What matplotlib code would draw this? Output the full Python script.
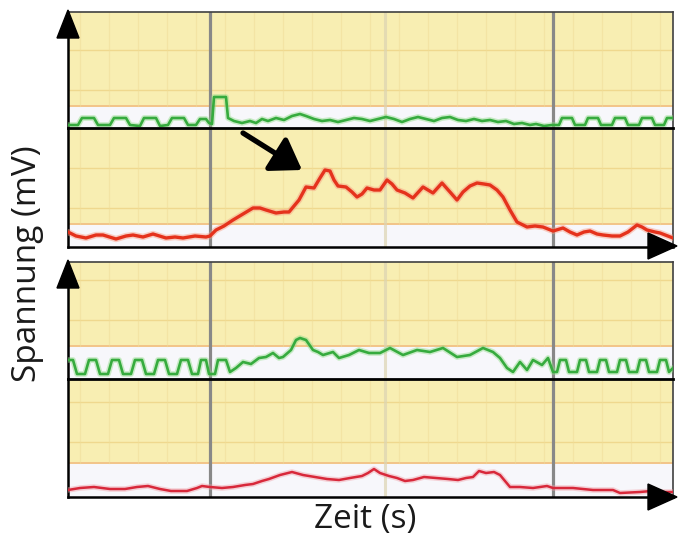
import matplotlib.pyplot as plt
from matplotlib.patches import Polygon

# Oberer Block: grüner und roter Kanal, Zeit in s, Spannung in mV
t_gruen_1 = [0, 0.10, 0.14, 0.26, 0.30, 0.42, 0.46, 0.58, 0.62, 0.72, 0.76, 0.88, 0.92,
             1.00, 1.04, 1.16, 1.20, 1.28, 1.32, 1.38, 1.41, 1.44, 1.46, 1.58, 1.60, 1.66,
             1.74, 1.82, 1.88, 1.94, 2.00, 2.08, 2.16, 2.24, 2.32, 2.38, 2.46, 2.54, 2.62,
             2.70, 2.78, 2.86, 2.94, 3.02, 3.10, 3.18, 3.26, 3.34, 3.42, 3.50, 3.58, 3.66,
             3.74, 3.82, 3.90, 3.98, 4.06, 4.14, 4.22, 4.30, 4.38, 4.46, 4.54, 4.62, 4.68,
             4.76, 4.84, 4.91, 4.94, 5.04, 5.07, 5.17, 5.20, 5.30, 5.33, 5.44, 5.47, 5.57,
             5.60, 5.71, 5.74, 5.84, 5.87, 5.96, 5.99, 6.05]
v_gruen_1 = [0.03, 0.03, 0.10, 0.10, 0.03, 0.03, 0.10, 0.10, 0.03, 0.02, 0.10, 0.10, 0.02,
             0.03, 0.10, 0.10, 0.03, 0.03, 0.09, 0.09, 0.05, 0.04, 0.31, 0.31, 0.10, 0.07,
             0.05, 0.07, 0.05, 0.09, 0.07, 0.10, 0.08, 0.12, 0.14, 0.12, 0.09, 0.07, 0.08,
             0.06, 0.08, 0.10, 0.09, 0.07, 0.09, 0.11, 0.09, 0.06, 0.09, 0.11, 0.09, 0.07,
             0.10, 0.11, 0.08, 0.07, 0.09, 0.07, 0.08, 0.06, 0.07, 0.04, 0.05, 0.03, 0.04,
             0.02, 0.03, 0.03, 0.10, 0.10, 0.03, 0.03, 0.10, 0.10, 0.03, 0.03, 0.10, 0.10,
             0.03, 0.03, 0.10, 0.10, 0.03, 0.03, 0.10, 0.10]

t_rot_1 = [0, 0.08, 0.18, 0.28, 0.35, 0.48, 0.58, 0.65, 0.75, 0.85, 0.98, 1.07, 1.15, 1.27,
           1.38, 1.42, 1.48, 1.56, 1.65, 1.75, 1.85, 1.92, 1.98, 2.08, 2.16, 2.21, 2.26, 2.31,
           2.38, 2.46, 2.52, 2.57, 2.62, 2.66, 2.70, 2.78, 2.84, 2.89, 2.94, 2.99, 3.06, 3.12,
           3.19, 3.24, 3.29, 3.37, 3.45, 3.55, 3.60, 3.65, 3.74, 3.82, 3.89, 3.95, 4.02, 4.09,
           4.16, 4.22, 4.29, 4.35, 4.42, 4.49, 4.59, 4.67, 4.75, 4.85, 4.95, 5.02, 5.09, 5.16,
           5.22, 5.29, 5.35, 5.44, 5.52, 5.60, 5.69, 5.74, 5.79, 5.87, 5.92, 6.05]
v_rot_1 = [0.15, 0.11, 0.09, 0.12, 0.12, 0.08, 0.11, 0.12, 0.10, 0.13, 0.09, 0.10, 0.09, 0.11,
           0.10, 0.11, 0.17, 0.21, 0.27, 0.33, 0.39, 0.39, 0.37, 0.34, 0.35, 0.35, 0.41, 0.47,
           0.60, 0.59, 0.69, 0.77, 0.76, 0.67, 0.61, 0.60, 0.55, 0.50, 0.53, 0.59, 0.57, 0.57,
           0.67, 0.63, 0.57, 0.54, 0.49, 0.60, 0.57, 0.54, 0.64, 0.55, 0.47, 0.55, 0.61, 0.64,
           0.63, 0.62, 0.57, 0.50, 0.37, 0.25, 0.20, 0.21, 0.20, 0.16, 0.19, 0.15, 0.12, 0.15,
           0.16, 0.13, 0.12, 0.11, 0.11, 0.15, 0.22, 0.20, 0.17, 0.15, 0.14, 0.09]

# Unterer Block
t_gruen_2 = [0, 0.05, 0.09, 0.17, 0.21, 0.28, 0.32, 0.40, 0.44, 0.51, 0.55, 0.63, 0.67, 0.74,
             0.78, 0.86, 0.90, 0.97, 1.01, 1.09, 1.13, 1.20, 1.24, 1.30, 1.33, 1.38, 1.41,
             1.47, 1.50, 1.58, 1.62, 1.68, 1.75, 1.83, 1.91, 1.98, 2.05, 2.11, 2.15, 2.23,
             2.28, 2.32, 2.38, 2.45, 2.50, 2.55, 2.65, 2.71, 2.81, 2.91, 3.01, 3.12, 3.22,
             3.35, 3.49, 3.62, 3.75, 3.89, 4.02, 4.15, 4.25, 4.32, 4.39, 4.45, 4.52, 4.59,
             4.65, 4.74, 4.80, 4.85, 4.89, 4.92, 4.98, 5.01, 5.09, 5.12, 5.18, 5.21, 5.29,
             5.32, 5.38, 5.41, 5.49, 5.52, 5.58, 5.61, 5.69, 5.72, 5.78, 5.81, 5.89, 5.92,
             5.98, 6.01, 6.05]
v_gruen_2 = [0.19, 0.19, 0.05, 0.05, 0.19, 0.19, 0.05, 0.05, 0.19, 0.19, 0.05, 0.05, 0.19, 0.19,
             0.05, 0.05, 0.19, 0.19, 0.05, 0.05, 0.19, 0.19, 0.05, 0.05, 0.19, 0.19, 0.05,
             0.05, 0.19, 0.19, 0.07, 0.11, 0.17, 0.15, 0.21, 0.22, 0.26, 0.21, 0.22, 0.29,
             0.39, 0.41, 0.39, 0.29, 0.27, 0.24, 0.27, 0.21, 0.24, 0.29, 0.26, 0.26, 0.31,
             0.24, 0.29, 0.27, 0.31, 0.22, 0.24, 0.31, 0.27, 0.21, 0.11, 0.07, 0.17, 0.09,
             0.19, 0.14, 0.21, 0.07, 0.07, 0.19, 0.19, 0.07, 0.07, 0.19, 0.19, 0.07, 0.07,
             0.19, 0.19, 0.07, 0.07, 0.19, 0.19, 0.07, 0.07, 0.19, 0.19, 0.07, 0.07, 0.19,
             0.19, 0.07, 0.11]

t_rot_2 = [0, 0.12, 0.26, 0.42, 0.57, 0.69, 0.80, 0.92, 1.03, 1.19, 1.29, 1.34, 1.42, 1.54,
           1.65, 1.77, 1.85, 1.94, 2.01, 2.12, 2.24, 2.35, 2.47, 2.59, 2.71, 2.82, 2.94, 3.00,
           3.06, 3.12, 3.21, 3.29, 3.37, 3.45, 3.56, 3.68, 3.80, 3.90, 3.98, 4.05, 4.11, 4.18,
           4.26, 4.32, 4.37, 4.42, 4.52, 4.65, 4.79, 4.85, 4.95, 5.05, 5.25, 5.45, 5.52, 5.72,
           5.83, 5.95, 6.05]
v_rot_2 = [0.07, 0.09, 0.10, 0.08, 0.08, 0.10, 0.11, 0.08, 0.06, 0.06, 0.09, 0.11, 0.10, 0.09,
           0.10, 0.12, 0.13, 0.16, 0.18, 0.22, 0.25, 0.22, 0.20, 0.18, 0.17, 0.19, 0.21, 0.24,
           0.28, 0.24, 0.21, 0.19, 0.16, 0.17, 0.20, 0.19, 0.18, 0.17, 0.19, 0.20, 0.26, 0.24,
           0.25, 0.22, 0.16, 0.10, 0.10, 0.09, 0.11, 0.09, 0.09, 0.09, 0.07, 0.07, 0.04, 0.05,
           0.06, 0.05, 0.05]

# Markierungen im Raster (s)
t_marker = [1.42, 4.85]
t_mitte = 3.17

W, H = 680, 543
fig = plt.figure(figsize=(W / 100, H / 100), dpi=100)
fig.patch.set_facecolor('white')

GELB = '#f8eeb2'
BAND = '#f7f7fb'


def kanal(top, bottom, band, gitter, t, v, farbe, halo, lw, oben):
    ax = fig.add_axes([68 / W, 1 - bottom / H, 605 / W, (bottom - top) / H])
    ymax = (bottom - top) / 100
    ax.set_xlim(0, 6.05)
    ax.set_ylim(0, ymax)
    ax.set_facecolor(GELB)
    ax.axhspan(0, band, color=BAND, zorder=0)
    ax.axhline(band, color='#f2c488', lw=1.4, zorder=1)
    for g in gitter:
        ax.axhline(g, color='#eccf80', lw=1.0, alpha=0.7, zorder=1)
    x = 0.12
    while x < 6.05:
        ax.axvline(x, ymin=band / ymax, color='#efdc98', lw=0.9, alpha=0.5, zorder=1)
        x += 0.29
    ax.axvline(t_mitte, color='#dcd4b2', lw=2.2, alpha=0.7, zorder=1)
    for tm in t_marker:
        ax.axvline(tm, color='#888888', lw=2.3, zorder=2)
    ax.plot(t, v, color=halo, lw=lw + 2.2, alpha=0.45, solid_joinstyle='round',
            solid_capstyle='round', zorder=3)
    ax.plot(t, v, color=farbe, lw=lw, solid_joinstyle='round', zorder=4)
    ax.set_xticks([])
    ax.set_yticks([])
    ax.spines['left'].set_color('black')
    ax.spines['left'].set_linewidth(1.8)
    ax.spines['right'].set_color('#404040')
    ax.spines['right'].set_linewidth(1.2)
    if oben:
        ax.spines['top'].set_color('#404040')
        ax.spines['top'].set_linewidth(1.2)
        ax.spines['bottom'].set_visible(False)
    else:
        ax.spines['top'].set_color('black')
        ax.spines['top'].set_linewidth(2.0)
        ax.spines['bottom'].set_color('black')
        ax.spines['bottom'].set_linewidth(1.8)
    return ax


kanal(12, 128, 0.22, [0.38, 0.78], t_gruen_1, v_gruen_1, '#36ab3e', '#8fdc86', 1.9, True)
ax_r1 = kanal(128, 247, 0.23, [0.39, 0.79], t_rot_1, v_rot_1, '#e5321c', '#f79a80', 2.4, False)
kanal(262, 379, 0.33, [0.59, 0.99], t_gruen_2, v_gruen_2, '#36ab3e', '#8fdc86', 1.9, True)
kanal(379, 497, 0.34, [0.55, 0.95], t_rot_2, v_rot_2, '#d8283a', '#f0a0a8', 1.8, False)

# Hinweispfeil auf den Anstieg im roten Kanal
ax_r1.annotate('', xy=(2.34, 0.77), xytext=(1.75, 1.14),
               arrowprops=dict(arrowstyle='-|>,head_length=0.6,head_width=0.4',
                               color='black', lw=3.8, mutation_scale=30,
                               shrinkA=0, shrinkB=0))


def px(x, y):
    return (x / W, 1 - y / H)


# Achsenpfeile
for y0 in (10, 260):
    fig.add_artist(Polygon([px(68, y0), px(57, y0 + 28), px(79, y0 + 28)],
                           closed=True, color='black', transform=fig.transFigure))
for y0 in (246, 497):
    fig.add_artist(Polygon([px(677, y0), px(648, y0 - 13), px(648, y0 + 13)],
                           closed=True, color='black', transform=fig.transFigure))

fig.text(0.040, 0.515, 'Spannung (mV)', rotation=90, fontsize=24, ha='center',
         va='center', family='Open Sans', color='#1a1a1a')
fig.text(0.537, 0.043, 'Zeit (s)', fontsize=24, ha='center', va='center',
         family='Open Sans', color='#1a1a1a')

fig.savefig('out.png', dpi=100)
